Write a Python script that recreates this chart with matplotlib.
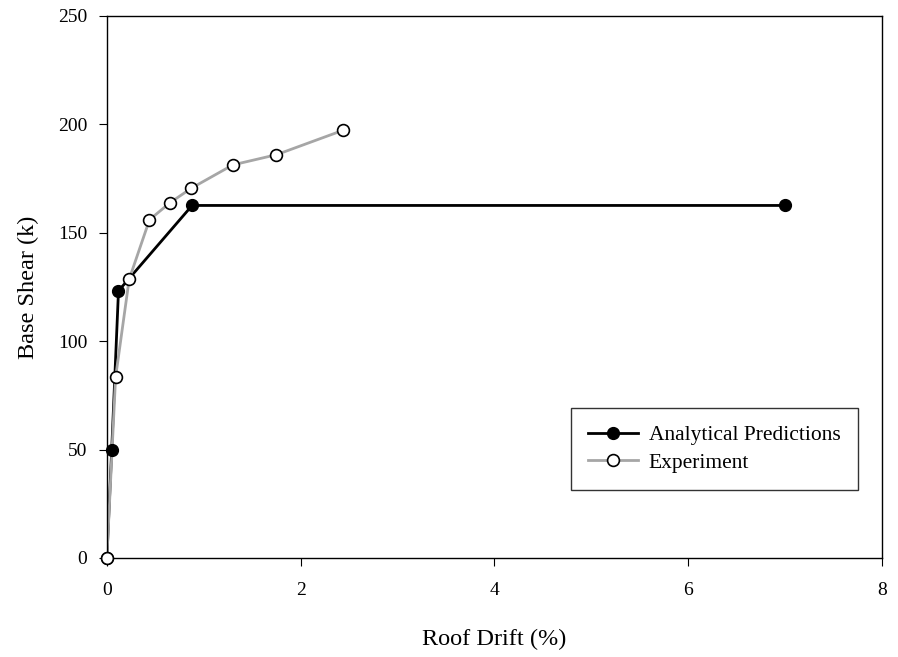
import numpy as np
from matplotlib import pyplot as plt

plt.rcParams['font.family'] = ['Liberation Serif', 'DejaVu Serif']

# Analytical predictions
drift_pred = [0.0, 0.05, 0.12, 0.88, 7.0]
shear_pred = [0.0, 49.8, 123.2, 162.6, 162.6]

# Experiment
drift_exp = [0.0, 0.09, 0.23, 0.44, 0.65, 0.87, 1.30, 1.75, 2.44]
shear_exp = [0.0, 83.3, 128.5, 156.0, 163.8, 170.5, 181.3, 186.0, 197.3]


def plot_pushover(fname='out.png'):

    fig = plt.figure(figsize=(8.98, 6.57), dpi=100)
    ax = fig.add_axes([0.119, 0.1507, 0.863, 0.825])

    # lines first, markers on top
    ax.plot(drift_pred, shear_pred, color='black', lw=2, zorder=2)
    ax.plot(drift_exp, shear_exp, color='#a6a6a6', lw=2, zorder=2.5)
    ax.plot(drift_pred, shear_pred, ls='none', marker='o', ms=8.5,
            mfc='black', mec='black', zorder=3, clip_on=False)
    ax.plot(drift_exp, shear_exp, ls='none', marker='o', ms=8.5,
            mfc='white', mec='black', mew=1.2, zorder=4, clip_on=False)

    # legend handles
    ax.plot([], [], color='black', lw=2, marker='o', ms=8.5, mfc='black',
            mec='black', label='Analytical Predictions')
    ax.plot([], [], color='#a6a6a6', lw=2, marker='o', ms=8.5, mfc='white',
            mec='black', mew=1.2, label='Experiment')

    #Formatting
    fs = 14
    ax.set_xlim(0, 8)
    ax.set_ylim(0, 250)
    ax.set_xticks([0, 2, 4, 6, 8])
    ax.set_yticks([0, 50, 100, 150, 200, 250])
    ax.set_xlabel('Roof Drift (%)', fontsize=17.5, labelpad=22)
    ax.set_ylabel('Base Shear (k)', fontsize=17.5, labelpad=14)
    ax.tick_params(axis='both', direction='out', length=6, labelsize=fs,
                   top=False, right=False)
    ax.tick_params(axis='x', pad=11)
    ax.tick_params(axis='y', pad=8)
    for s in ax.spines.values():
        s.set_linewidth(1)

    leg = ax.legend(loc='lower left', bbox_to_anchor=(0.599, 0.125),
                    borderaxespad=0, fontsize=15.5, frameon=True,
                    fancybox=False, edgecolor='black', borderpad=0.8,
                    handlelength=2.3, handletextpad=0.5, labelspacing=0.35)
    leg.get_frame().set_linewidth(1)

    plt.savefig(fname, dpi=100)


plot_pushover()
